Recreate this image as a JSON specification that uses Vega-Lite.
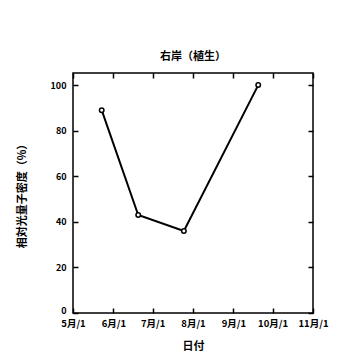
{
  "$schema": "https://vega.github.io/schema/vega-lite/v6.json",
  "width": 240,
  "height": 240,
  "autosize": "none",
  "padding": {"left": 73, "top": 73, "right": 47, "bottom": 48},
  "background": "white",
  "title": {"text": "右岸（植生）", "font": "Noto Sans CJK JP", "fontSize": 11, "fontWeight": "bold", "color": "black", "offset": 10},
  "config": {
    "view": {"stroke": "black", "strokeWidth": 1.5},
    "axis": {"font": "Noto Sans CJK JP"}
  },
  "data": {"values": [
    {"date": "2000-05-23", "value": 89},
    {"date": "2000-06-20", "value": 43},
    {"date": "2000-07-25", "value": 36},
    {"date": "2000-09-20", "value": 100}
  ]},
  "resolve": {"axis": {"x": "independent", "y": "independent"}},
  "layer": [
    {
      "mark": {"type": "line", "color": "black", "strokeWidth": 2},
      "encoding": {
        "x": {"field": "date", "type": "temporal", "title": "日付",
          "scale": {"domain": ["2000-05-01", "2000-11-01"]},
          "axis": {"orient": "bottom", "values": ["2000-05-01", "2000-06-01", "2000-07-01", "2000-08-01", "2000-09-01", "2000-10-01", "2000-11-01"],
            "format": "%-m月/%-d", "grid": false, "domain": false, "tickSize": -5, "tickColor": "black", "tickWidth": 1.5,
            "labelOverlap": false, "labelFlush": false,
            "labelFont": "Noto Sans CJK JP", "labelFontSize": 9.5, "labelFontWeight": "bold", "labelColor": "black", "labelPadding": 10,
            "titleFont": "Noto Sans CJK JP", "titleFontSize": 11, "titleFontWeight": "bold", "titleColor": "black", "titlePadding": 13}},
        "y": {"field": "value", "type": "quantitative", "title": "相対光量子密度（%）",
          "scale": {"domain": [0, 105.3], "nice": false},
          "axis": {"orient": "left", "values": [0, 20, 40, 60, 80, 100], "grid": false, "domain": false, "tickSize": -5, "tickColor": "black", "tickWidth": 1.5,
            "labelOverlap": false, "labelFlush": false,
            "labelOffset": {"condition": {"test": "datum.value === 0", "value": -3}, "value": 0},
            "labelFont": "Noto Sans CJK JP", "labelFontSize": 9, "labelFontWeight": "bold", "labelColor": "black", "labelPadding": 12,
            "titleFont": "Noto Sans CJK JP", "titleFontSize": 11, "titleFontWeight": "bold", "titleColor": "black", "titlePadding": 23}}
      }
    },
    {
      "mark": {"type": "point", "shape": "circle", "filled": true, "fill": "white", "stroke": "black", "strokeWidth": 1.5, "size": 20, "opacity": 1},
      "encoding": {
        "x": {"field": "date", "type": "temporal",
          "axis": {"orient": "top", "values": ["2000-05-01", "2000-06-01", "2000-07-01", "2000-08-01", "2000-09-01", "2000-10-01", "2000-11-01"],
            "labels": false, "title": null, "grid": false, "domain": false, "tickSize": -5, "tickColor": "black", "tickWidth": 1.5}},
        "y": {"field": "value", "type": "quantitative",
          "axis": {"orient": "right", "values": [0, 20, 40, 60, 80, 100], "labels": false, "title": null, "grid": false, "domain": false, "tickSize": -5, "tickColor": "black", "tickWidth": 1.5}}
      }
    }
  ]
}
